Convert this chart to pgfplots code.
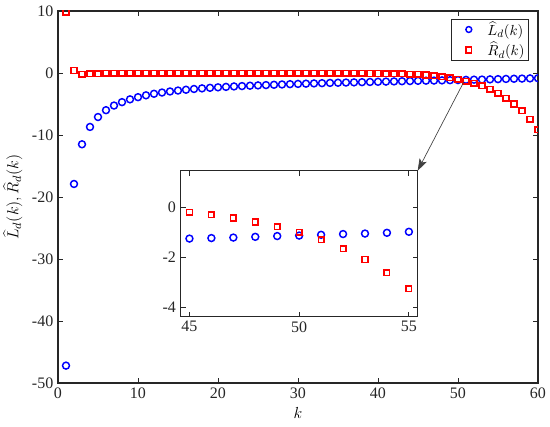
\documentclass[border=0pt]{standalone}
\usepackage{pgfplots}
\pgfplotsset{compat=1.18}
\usepackage{pgfplotstable}
\usepackage{fontspec}
\setmainfont{Liberation Serif}
\usetikzlibrary{arrows.meta}
\definecolor{axgray}{RGB}{38,38,38}
\definecolor{mblue}{RGB}{0,0,255}
\definecolor{mred}{RGB}{255,0,0}
\pgfplotstableread{
k L
1 -47.2
2 -17.9
3 -11.5
4 -8.7
5 -7.1
6 -6.0
7 -5.25
8 -4.7
9 -4.25
10 -3.9
11 -3.6
12 -3.35
13 -3.15
14 -2.98
15 -2.83
16 -2.70
17 -2.58
18 -2.48
19 -2.39
20 -2.31
21 -2.24
22 -2.17
23 -2.11
24 -2.05
25 -2.00
26 -1.95
27 -1.90
28 -1.85
29 -1.80
30 -1.76
31 -1.72
32 -1.68
33 -1.64
34 -1.60
35 -1.57
36 -1.54
37 -1.51
38 -1.48
39 -1.45
40 -1.42
41 -1.39
42 -1.36
43 -1.33
44 -1.30
45 -1.26
46 -1.24
47 -1.22
48 -1.19
49 -1.16
50 -1.14
51 -1.11
52 -1.08
53 -1.06
54 -1.03
55 -0.99
56 -0.96
57 -0.93
58 -0.90
59 -0.87
60 -0.84
}\Ltab
\pgfplotstableread{
k R
1 9.8
2 0.4
3 -0.2
4 -0.15
5 -0.1
6 -0.06
7 -0.05
8 -0.05
9 -0.05
10 -0.05
11 -0.05
12 -0.05
13 -0.05
14 -0.05
15 -0.05
16 -0.05
17 -0.05
18 -0.05
19 -0.05
20 -0.05
21 -0.05
22 -0.05
23 -0.05
24 -0.05
25 -0.05
26 -0.05
27 -0.05
28 -0.05
29 -0.05
30 -0.05
31 -0.05
32 -0.05
33 -0.05
34 -0.05
35 -0.05
36 -0.05
37 -0.06
38 -0.07
39 -0.08
40 -0.09
41 -0.10
42 -0.12
43 -0.14
44 -0.17
45 -0.21
46 -0.32
47 -0.44
48 -0.60
49 -0.79
50 -1.01
51 -1.31
52 -1.67
53 -2.09
54 -2.62
55 -3.26
56 -4.05
57 -5.00
58 -6.10
59 -7.45
60 -9.15
}\Rtab
\pgfplotsset{
  mystyle/.style={
    scale only axis,
    tick align=inside,
    major tick length=3.75pt,
    axis line style={axgray, line width=0.8pt},
    every tick/.style={axgray, line width=0.6pt},
    tick label style={font=\fontsize{12}{14}\selectfont, text=axgray},
    /pgf/number format/assume math mode=true,
    clip marker paths=true,
  },
  Lstyle/.style={only marks, mark=o, mark size=2.6pt, mark options={line width=1.1pt, draw=mblue}, color=mblue},
  Rstyle/.style={only marks, mark=square, mark size=2.1pt, mark options={line width=1.1pt, draw=mred}, color=mred},
}
\begin{document}
\begin{tikzpicture}[font=\fontsize{12}{14}\selectfont]
\begin{axis}[mystyle, name=main,
  width=360pt, height=279pt,
  xmin=0, xmax=60, ymin=-50, ymax=10,
  xtick={0,10,...,60}, ytick={-50,-40,...,10},
  xlabel={$k$}, ylabel={$\widehat{L}_d(k), \widehat{R}_d(k)$},
  label style={font=\fontsize{13}{15}\selectfont},
  xlabel style={at={(axis description cs:0.5,-0.0806)}, anchor=center},
  ylabel style={at={(axis description cs:-0.094,0.5)}, anchor=center, inner sep=0pt},
  legend style={at={(0.981,0.978)}, anchor=north east, draw=axgray, line width=0.6pt,
    font=\fontsize{11}{13}\selectfont, inner xsep=3pt, inner ysep=1.5pt,
    row sep=3.5pt,
    nodes={inner sep=0pt}},
  legend image code/.code={\path[draw=none, fill=none] (0pt,0pt) -- (24pt,0pt); \draw[#1, mark size=2.2pt] plot coordinates {(10pt,0pt)};},
  legend cell align=left,
]
\addplot+[Lstyle] table[x=k, y=L] {\Ltab};
\addlegendentry{$\widehat{L}_d(k)$}
\addplot+[Rstyle] table[x=k, y=R] {\Rtab};
\addlegendentry{$\widehat{R}_d(k)$}
\coordinate (A) at (axis cs:50.7,-1.5);
\end{axis}
\begin{axis}[mystyle, name=ins,
  at={(92pt,49.7pt)}, anchor=south west,
  width=177.75pt, height=109.5pt,
  xmin=44.6, xmax=55.4, ymin=-4.37, ymax=1.44,
  xtick={45,50,55}, ytick={-4,-2,0},
  axis background/.style={fill=white},
]
\addplot+[Lstyle, restrict x to domain=44:56] table[x=k, y=L] {\Ltab};
\addplot+[Rstyle, restrict x to domain=44:56] table[x=k, y=R] {\Rtab};
\end{axis}
\draw[black!75, line width=0.5pt, -{Stealth[length=9pt, width=6pt, inset=2pt]}] (A) -- (ins.north east);
\pgfresetboundingbox
\useasboundingbox (-43.5pt,-33pt) rectangle (369pt,287.25pt);
\end{tikzpicture}
\end{document}
